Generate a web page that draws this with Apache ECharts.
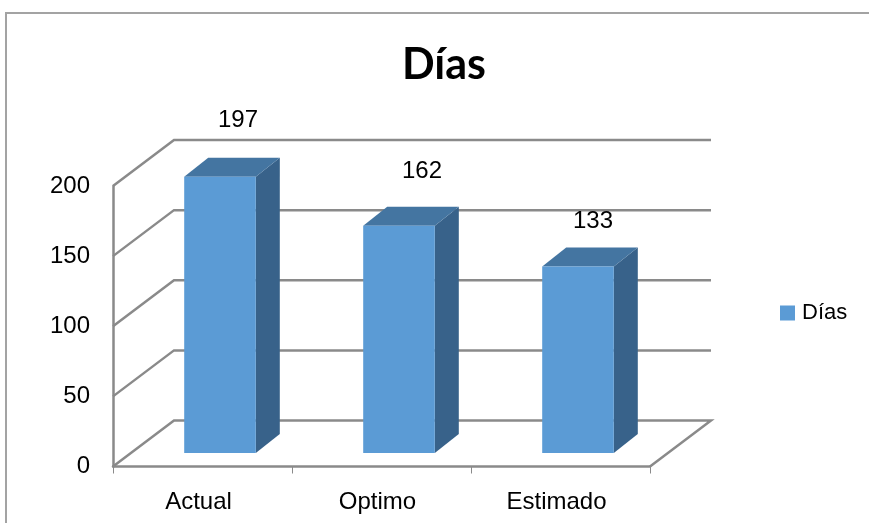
<!DOCTYPE html>
<html>
<head>
<meta charset="utf-8">
<title>Días</title>
<script src="https://cdn.jsdelivr.net/npm/echarts@6/dist/echarts.min.js"></script>
<style>
  html, body { margin: 0; padding: 0; background: #fff; }
  #chart { width: 869px; height: 523px; }
</style>
</head>
<body>
<div id="chart"></div>
<script>
const categories = ["Actual", "Optimo", "Estimado"];
const dias = [197, 162, 133];
const yTicks = [0, 50, 100, 150, 200];
const seriesName = "Días";

// fake 3d: how far the back wall and the bars are pushed, in pixels
const wallDepth = [61, -46];
const barShift = [17.5, -13.5];
const barDepth = [24, -19];
// the labels do not sit at the same distance from each bar
const labelShift = [[18, -37], [23, -35], [15, -26]];

const gridColor = "#8a8a8a";
const frontColor = "#5b9bd5";
const topColor = "#4475a1";
const sideColor = "#38628a";
const textFont = "Liberation Sans";

const chart = echarts.init(document.getElementById("chart"));

function renderWall(params, api) {
  const value = api.value(0);
  const front = api.coord([0, value]);
  // x axis is category, so take the ends from the grid rect
  const rect = params.coordSys;
  front[0] = rect.x;
  const back = [front[0] + wallDepth[0], front[1] + wallDepth[1]];
  const end = [rect.x + rect.width + wallDepth[0], back[1]];
  const points = [front, back, end];
  if (value === 0) {
    points.push([rect.x + rect.width, front[1]]);
  }
  return {
    type: "polyline",
    shape: { points: points },
    style: { stroke: gridColor, lineWidth: 2.5, fill: null },
    silent: true,
  };
}

function renderBar(params, api) {
  const base = api.coord([api.value(0), 0]);
  const top = api.coord([api.value(0), api.value(1)]);
  const w = api.size([1, 0])[0] * 0.4;
  const x0 = base[0] - w / 2 + barShift[0];
  const x1 = x0 + w;
  const y0 = top[1] + barShift[1];
  const y1 = base[1] + barShift[1];
  const dx = barDepth[0];
  const dy = barDepth[1];
  const shift = labelShift[params.dataIndex];
  return {
    type: "group",
    children: [
      {
        type: "polygon",
        shape: { points: [[x1, y0], [x1 + dx, y0 + dy], [x1 + dx, y1 + dy], [x1, y1]] },
        style: { fill: sideColor },
      },
      {
        type: "polygon",
        shape: { points: [[x0, y0], [x0 + dx, y0 + dy], [x1 + dx, y0 + dy], [x1, y0]] },
        style: { fill: topColor },
      },
      {
        type: "rect",
        shape: { x: x0, y: y0, width: w, height: y1 - y0 },
        style: { fill: frontColor },
      },
      {
        type: "text",
        x: (x0 + x1) / 2 + shift[0],
        y: y0 + dy + shift[1],
        style: {
          text: String(api.value(1)),
          fill: "#000",
          font: "24px '" + textFont + "'",
          align: "center",
          verticalAlign: "middle",
        },
      },
    ],
  };
}

chart.setOption({
  backgroundColor: "#fff",
  animation: false,
  title: {
    text: seriesName,
    left: 439,
    top: 39,
    textAlign: "center",
    textStyle: {
      fontFamily: "Lato",
      fontSize: 43,
      fontWeight: "bold",
      color: "#000",
    },
  },
  legend: {
    data: [seriesName],
    left: 775,
    top: 297,
    itemWidth: 15,
    itemHeight: 15,
    itemGap: 0,
    icon: "rect",
    selectedMode: false,
    textStyle: {
      fontFamily: textFont,
      fontSize: 22,
      color: "#000",
      padding: [0, 0, 0, 2],
    },
  },
  grid: {
    left: 113,
    top: 186,
    width: 537,
    height: 280.5,
    containLabel: false,
  },
  xAxis: {
    type: "category",
    data: categories,
    axisLine: { show: true, lineStyle: { color: gridColor, width: 2.5 } },
    axisTick: { show: true, length: 7, alignWithLabel: false, lineStyle: { color: gridColor, width: 1 } },
    axisLabel: {
      interval: 0,
      margin: 24,
      color: "#000",
      fontFamily: textFont,
      fontSize: 24,
      padding: [0, 8, 0, 0],
    },
    splitLine: { show: false },
  },
  yAxis: {
    type: "value",
    min: 0,
    max: 200,
    interval: 50,
    axisLine: { show: true, lineStyle: { color: gridColor, width: 2.5 } },
    axisTick: { show: false },
    axisLabel: {
      margin: 23,
      color: "#000",
      fontFamily: textFont,
      fontSize: 24,
      padding: [8, 0, 0, 0],
    },
    splitLine: { show: false },
  },
  graphic: [
    {
      // outer frame of the picture, only top and left show
      type: "polyline",
      shape: { points: [[6, 523], [6, 13], [869, 13]] },
      style: { stroke: "#a3a3a3", lineWidth: 2, fill: null },
      silent: true,
    },
  ],
  series: [
    {
      name: "walls",
      type: "custom",
      renderItem: renderWall,
      data: yTicks.map((t) => [t]),
      encode: { y: 0 },
      z: 1,
      silent: true,
    },
    {
      name: seriesName,
      type: "custom",
      renderItem: renderBar,
      data: dias.map((v, i) => [i, v]),
      encode: { x: 0, y: 1 },
      itemStyle: { color: frontColor },
      z: 3,
    },
  ],
});
</script>
</body>
</html>
